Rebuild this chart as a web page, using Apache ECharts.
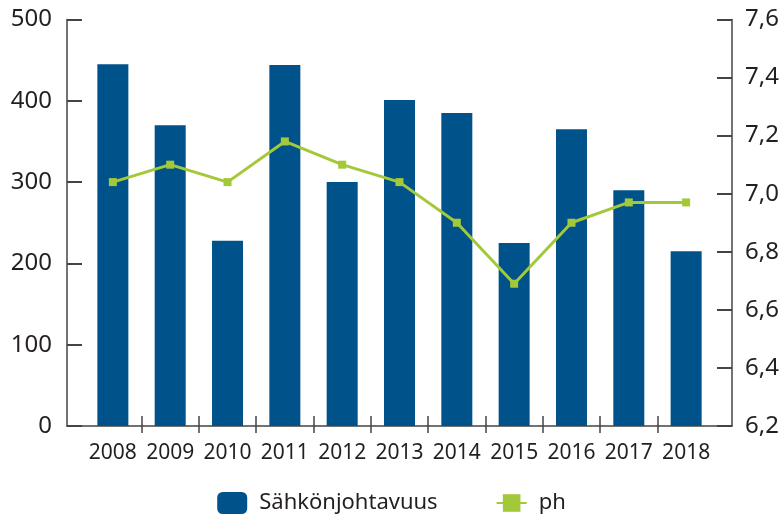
<!DOCTYPE html>
<html lang="fi">
<head>
  <meta charset="UTF-8">
  <title>Sähkönjohtavuus ja ph</title>
  <script src="https://cdn.jsdelivr.net/npm/echarts@6/dist/echarts.min.js"></script>
  <style>
    html, body { margin: 0; padding: 0; background: #fff; }
    #chart { width: 783px; height: 523px; }
  </style>
</head>
<body>
  <div id="chart"></div>
<script>
  const years = [2008, 2009, 2010, 2011, 2012, 2013, 2014, 2015, 2016, 2017, 2018];
  const conductivity = [445, 370, 228, 444, 300, 401, 385, 225, 365, 290, 215];
  const ph = [7.04, 7.1, 7.04, 7.18, 7.1, 7.04, 6.9, 6.69, 6.9, 6.97, 6.97];
  const tickYears = [2008.5, 2009.5, 2010.5, 2011.5, 2012.5, 2013.5, 2014.5, 2015.5, 2016.5, 2017.5];

  const textColor = '#231f20';
  const axisColor = '#444';
  const font = 'Noto Sans';

  const chart = echarts.init(document.getElementById('chart'));
  chart.setOption({
    animation: false,
    textStyle: { fontFamily: font },
    grid: { left: 67, right: 51, top: 19.5, bottom: 97, containLabel: false },
    legend: {
      bottom: 4,
      left: 'center',
      itemGap: 58,
      itemWidth: 30,
      itemHeight: 22,
      textStyle: { fontSize: 22, color: textColor, fontFamily: font, padding: [0, 0, 0, 7] },
      data: ['Sähkönjohtavuus', 'ph']
    },
    xAxis: [
      {
        type: 'value',
        min: 2007.2,
        max: 2018.8,
        splitLine: { show: false },
        axisLine: { show: true, onZero: false, lineStyle: { color: axisColor, width: 1.5 } },
        axisTick: { show: true, length: 7, customValues: tickYears, lineStyle: { color: axisColor, width: 1.5 } },
        axisLabel: {
          customValues: years,
          formatter: v => String(v),
          fontSize: 21,
          color: textColor,
          margin: 17,
          fontFamily: font
        }
      },
      {
        // upper half of the category ticks, crossing the axis line
        type: 'value',
        position: 'bottom',
        min: 2007.2,
        max: 2018.8,
        splitLine: { show: false },
        axisLine: { show: false },
        axisTick: { show: true, inside: true, length: 10, customValues: tickYears, lineStyle: { color: axisColor, width: 1.5 } },
        axisLabel: { show: false }
      }
    ],
    yAxis: [
      {
        type: 'value',
        min: 0,
        max: 500,
        interval: 100,
        splitLine: { show: false },
        axisLine: { show: true, lineStyle: { color: axisColor, width: 1.5 } },
        axisTick: { show: true, inside: true, length: 15, lineStyle: { color: axisColor, width: 2 } },
        axisLabel: { fontSize: 24, color: textColor, margin: 15, fontFamily: font }
      },
      {
        type: 'value',
        min: 6.2,
        max: 7.6,
        interval: 0.2,
        position: 'right',
        splitLine: { show: false },
        axisLine: { show: true, lineStyle: { color: axisColor, width: 1.5 } },
        axisTick: { show: true, inside: true, length: 15, lineStyle: { color: axisColor, width: 2 } },
        axisLabel: {
          fontSize: 24,
          color: textColor,
          margin: 13,
          fontFamily: font,
          formatter: v => v.toFixed(1).replace('.', ',')
        }
      }
    ],
    series: [
      {
        name: 'Sähkönjohtavuus',
        type: 'bar',
        xAxisIndex: 0,
        yAxisIndex: 0,
        barWidth: 31,
        itemStyle: { color: '#00538a' },
        data: years.map((y, i) => [y, conductivity[i]])
      },
      {
        name: 'ph',
        type: 'line',
        xAxisIndex: 0,
        yAxisIndex: 1,
        symbol: 'rect',
        symbolSize: 8,
        lineStyle: { color: '#a3c83a', width: 3 },
        itemStyle: { color: '#a3c83a' },
        data: years.map((y, i) => [y, ph[i]])
      }
    ]
  });
</script>
</body>
</html>
